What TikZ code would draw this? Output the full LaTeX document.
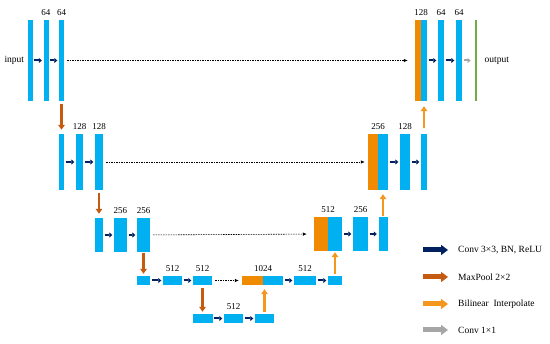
\documentclass[tikz,border=0pt]{standalone}
\usepackage{fontspec}
\setmainfont{Liberation Serif}
\usetikzlibrary{arrows.meta,positioning}
\definecolor{fmblue}{HTML}{00B0F0}
\definecolor{catorange}{HTML}{F08A00}
\definecolor{convnavy}{HTML}{002060}
\definecolor{poolbrown}{HTML}{C55A11}
\definecolor{uporange}{HTML}{F5961E}
\definecolor{onegray}{HTML}{A6A6A6}
\definecolor{outgreen}{HTML}{70AD47}

\begin{document}
\begin{tikzpicture}[
    x=1pt, y=-1pt,
    fm/.style={fill=fmblue, inner sep=0pt},
    cat/.style={fill=catorange, inner sep=0pt},
    lone/.style={minimum height=81},
    ltwo/.style={minimum height=56},
    lthree/.style={minimum height=34},
    lfour/.style={minimum height=9},
    num/.style={font=\fontsize{9}{10}\selectfont, inner sep=1pt},
    txt/.style={font=\fontsize{9.5}{11}\selectfont, inner sep=1pt},
    conv/.style={draw=convnavy, line width=2pt, -{Triangle[length=3pt,width=5pt]}, shorten <=1.5pt, shorten >=1.5pt},
    onebyone/.style={draw=onegray, line width=2pt, -{Triangle[length=3pt,width=5pt]}, shorten <=2pt, shorten >=4pt},
    pool/.style={draw=poolbrown, line width=2.5pt, -{Triangle[length=5pt,width=6.5pt]}, shorten <=3pt, shorten >=4pt},
    up/.style={draw=uporange, line width=2.5pt, -{Triangle[length=5pt,width=6.5pt]}, shorten <=3pt, shorten >=4pt},
    skip/.style={draw=black, line width=0.6pt, dash pattern=on 1.5pt off 1pt, -{Latex[length=4pt,width=3.5pt]}, shorten <=3pt, shorten >=5pt},
    key/.style={line width=5pt, -{Triangle[length=7pt,width=10pt]}, shorten >=9pt}
]
\useasboundingbox (0,0) rectangle (550,344);

\node[fm, lone, minimum width=5] (a1) at (30,60.5) {};
\node[fm, lone, minimum width=5] (a2) at (46,60.5) {};
\node[fm, lone, minimum width=5] (a3) at (61.5,60.5) {};
\node[cat, lone, minimum width=6] (a4) at (418,60.5) {};
\node[fm, lone, minimum width=6] (a5) at (424,60.5) {};
\node[fm, lone, minimum width=6] (a6) at (441,60.5) {};
\node[fm, lone, minimum width=6] (a7) at (459,60.5) {};
\node[fill=outgreen, inner sep=0pt, lone, minimum width=2.5] (a8) at (476,60.5) {};

\node[fm, ltwo, minimum width=5] (b1) at (61.5,162) {};
\node[fm, ltwo, minimum width=7] (b2) at (79.5,162) {};
\node[fm, ltwo, minimum width=8] (b3) at (99,162) {};
\node[cat, ltwo, minimum width=10] (b4) at (373,162) {};
\node[fm, ltwo, minimum width=10] (b5) at (383,162) {};
\node[fm, ltwo, minimum width=10] (b6) at (405,162) {};
\node[fm, ltwo, minimum width=6] (b7) at (424,162) {};

\node[fm, lthree, minimum width=8] (c1) at (99,235) {};
\node[fm, lthree, minimum width=13] (c2) at (120.5,235) {};
\node[fm, lthree, minimum width=13] (c3) at (143.5,235) {};
\node[cat, lthree, minimum width=14] (c4) at (321,234) {};
\node[fm, lthree, minimum width=14] (c5) at (335,234) {};
\node[fm, lthree, minimum width=15] (c6) at (360.5,234) {};
\node[fm, lthree, minimum width=9] (c7) at (383,234) {};

\node[fm, lfour, minimum width=13] (d1) at (143.5,280.5) {};
\node[fm, lfour, minimum width=19] (d2) at (172.5,280.5) {};
\node[fm, lfour, minimum width=19] (d3) at (202.5,280.5) {};
\node[cat, lfour, minimum width=21] (d4) at (252.5,280.5) {};
\node[fm, lfour, minimum width=20] (d5) at (273,280.5) {};
\node[fm, lfour, minimum width=22] (d6) at (305,280.5) {};
\node[fm, lfour, minimum width=14] (d7) at (335,280.5) {};

\node[fm, lfour, minimum width=20] (e1) at (202.5,318.5) {};
\node[fm, lfour, minimum width=19] (e2) at (233.5,318.5) {};
\node[fm, lfour, minimum width=19] (e3) at (264.5,318.5) {};

\node[txt, left=2pt of a1] (in) {input};
\node[txt, right=6pt of a8] (out) {output};

\node[num, above=3pt of a2] {64};
\node[num, above=3pt of a3] {64};
\node[num, above=3pt of a4.north east] {128};
\node[num, above=3pt of a6] {64};
\node[num, above=3pt of a7] {64};
\node[num, above=3pt of b2] {128};
\node[num, above=3pt of b3] {128};
\node[num, above=3pt of b4.north east] {256};
\node[num, above=3pt of b6] {128};
\node[num, above=3pt of c2] {256};
\node[num, above=3pt of c3] {256};
\node[num, above=3pt of c4.north east] {512};
\node[num, above=3pt of c6] {256};
\node[num, above=3pt of d2] {512};
\node[num, above=3pt of d3] {512};
\node[num, above=3pt of d4.north east] {1024};
\node[num, above=3pt of d6] {512};
\node[num, above=3pt of e2] {512};

\draw[conv] (a1) -- (a2);
\draw[conv] (a2) -- (a3);
\draw[conv] (a5) -- (a6);
\draw[conv] (a6) -- (a7);
\draw[onebyone] (a7) -- (a8);
\draw[conv] (b1) -- (b2);
\draw[conv] (b2) -- (b3);
\draw[conv] (b5) -- (b6);
\draw[conv] (b6) -- (b7);
\draw[conv] (c1) -- (c2);
\draw[conv] (c2) -- (c3);
\draw[conv] (c5) -- (c6);
\draw[conv] (c6) -- (c7);
\draw[conv] (d1) -- (d2);
\draw[conv] (d2) -- (d3);
\draw[conv] (d5) -- (d6);
\draw[conv] (d6) -- (d7);
\draw[conv] (e1) -- (e2);
\draw[conv] (e2) -- (e3);

\draw[skip, shorten >=7pt] (a3) -- (a4);
\draw[skip, shorten >=3pt] (b3) -- (b4);
\draw[skip, shorten >=7pt] (c3) -- (c4);
\draw[skip, shorten >=3pt] (d3) -- (d4);

\draw[pool] (a3) -- (b1);
\draw[pool] (b3) -- (c1);
\draw[pool, shorten <=1pt, shorten >=2pt] (c3) -- (d1);
\draw[pool, shorten >=2pt] (d3) -- (e1);

\draw[up, shorten <=2pt] (e3) -- (e3 |- d5.south);
\draw[up, shorten <=2pt, shorten >=1pt] (d7) -- (c5);
\draw[up, shorten <=1pt] (c7) -- (b5);
\draw[up, shorten <=6pt, shorten >=5pt] (b7) -- (a5);

\node[txt, anchor=west] (t1) at (457,250) {Conv 3×3, BN, ReLU};
\node[txt, anchor=west] (t2) at (457,277) {MaxPool 2×2};
\node[txt, anchor=west] (t3) at (457,304) {Bilinear\ \ Interpolate};
\node[txt, anchor=west] (t4) at (457,330) {Conv 1×1};
\coordinate (k1) at (423,250);
\coordinate (k2) at (423,277);
\coordinate (k3) at (423,304);
\coordinate (k4) at (423,330);
\draw[key, draw=convnavy] (k1) -- (t1);
\draw[key, draw=poolbrown] (k2) -- (t2);
\draw[key, draw=uporange] (k3) -- (t3);
\draw[key, draw=onegray] (k4) -- (t4);
\end{tikzpicture}
\end{document}
